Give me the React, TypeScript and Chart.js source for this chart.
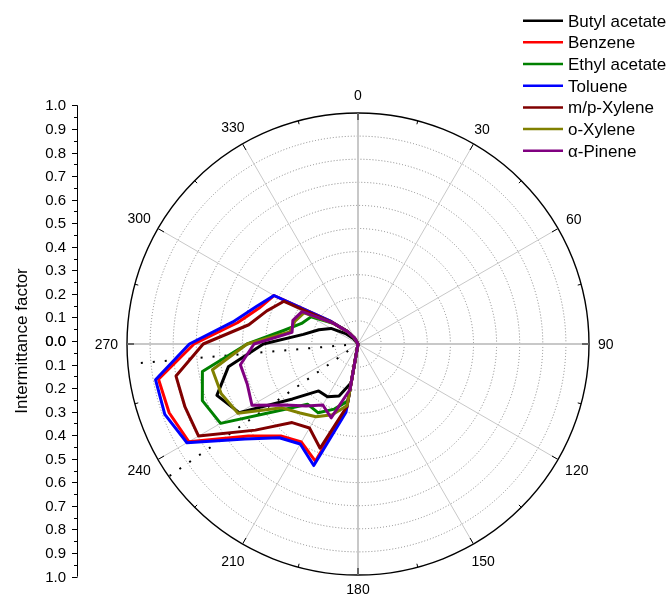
import React, { useEffect, useRef } from "react";
import { Chart, registerables } from "chart.js";

Chart.register(...registerables);

// Wind directions (degrees, clockwise from north), one value per 10°
const directions = [0, 10, 20, 30, 40, 50, 60, 70, 80, 90, 100, 110, 120, 130, 140, 150, 160, 170,
  180, 190, 200, 210, 220, 230, 240, 250, 260, 270, 280, 290, 300, 310, 320, 330, 340, 350];

const butylAcetate = [0, 0, 0, 0, 0, 0, 0, 0, 0, 0, 0, 0, 0, 0, 0, 0, 0, 0,
  0, 0.17, 0.24, 0.264, 0.265, 0.37, 0.594, 0.65, 0.57, 0.41, 0.24, 0.18, 0.135, 0.07, 0.03, 0, 0, 0];
const benzene = [0, 0, 0, 0, 0, 0, 0, 0, 0, 0, 0, 0, 0, 0, 0, 0, 0, 0,
  0, 0.28, 0.54, 0.49, 0.52, 0.62, 0.846, 0.87, 0.877, 0.71, 0.53, 0.455, 0.42, 0.15, 0.07, 0.03, 0, 0];
const ethylAcetate = [0, 0, 0, 0, 0, 0, 0, 0, 0, 0, 0, 0, 0, 0, 0, 0, 0, 0,
  0, 0.25, 0.30, 0.344, 0.34, 0.45, 0.687, 0.717, 0.684, 0.48, 0.33, 0.26, 0.235, 0.14, 0.07, 0.03, 0, 0];
const toluene = [0, 0, 0, 0, 0, 0, 0, 0, 0, 0, 0, 0, 0, 0, 0, 0, 0, 0,
  0, 0.30, 0.56, 0.50, 0.53, 0.64, 0.855, 0.89, 0.89, 0.73, 0.55, 0.47, 0.42, 0.15, 0.07, 0.03, 0, 0];
const mpXylene = [0, 0, 0, 0, 0, 0, 0, 0, 0, 0, 0, 0, 0, 0, 0, 0, 0, 0,
  0, 0.274, 0.48, 0.42, 0.444, 0.58, 0.797, 0.797, 0.80, 0.67, 0.48, 0.42, 0.37, 0.14, 0.07, 0.03, 0, 0];
const oXylene = [0, 0, 0, 0, 0, 0, 0, 0, 0, 0, 0, 0, 0, 0, 0, 0, 0, 0,
  0, 0.27, 0.326, 0.364, 0.39, 0.43, 0.60, 0.63, 0.64, 0.48, 0.30, 0.29, 0.27, 0.14, 0.07, 0.03, 0, 0];
const alphaPinene = [0, 0, 0, 0, 0, 0, 0, 0, 0, 0, 0, 0, 0, 0, 0, 0, 0, 0,
  0, 0.20, 0.34, 0.305, 0.35, 0.41, 0.53, 0.51, 0.517, 0.45, 0.29, 0.30, 0.28, 0.14, 0.07, 0.03, 0, 0];

const seriesNames = ["Butyl acetate", "Benzene", "Ethyl acetate", "Toluene", "m/p-Xylene", "o-Xylene", "\u03b1-Pinene"];
const seriesValues = [butylAcetate, benzene, ethylAcetate, toluene, mpXylene, oXylene, alphaPinene];
const seriesColors = ["#000000", "#ff0000", "#008000", "#0000ff", "#800000", "#808000", "#800080"];

// Dotted sector boundary lines (direction in degrees, length)
const sectorAngles = [265, 235];
const sectorLengths = [0.96, 1.0];

// Angular axis labels and left radial axis ticks
const angleTickLabels = [0, 30, 60, 90, 120, 150, 180, 210, 240, 270, 300, 330];
const radialTicks = [0, 0.1, 0.2, 0.3, 0.4, 0.5, 0.6, 0.7, 0.8, 0.9, 1.0];
const radialTitle = "Intermittance factor";

const FONT = "'Liberation Sans', Arial, sans-serif";

// 5° label grid so the dotted boundaries can sit between the 10° data directions
const fineLabels = directions.flatMap((d) => [String(d), String(d + 5)]);

const decor = {
  id: "decor",
  beforeDatasetsDraw(chart: any) {
    const s = chart.scales.r;
    const ctx = chart.ctx;
    const R = s.drawingArea;
    ctx.save();
    ctx.strokeStyle = "#000";
    ctx.lineWidth = 1;
    for (let i = 0; i < fineLabels.length; i += 3) {
      const major = i % 6 === 0;
      const p1 = s.getPointPosition(i, R);
      const p2 = s.getPointPosition(i, R - (major ? 7 : 3.5));
      ctx.beginPath();
      ctx.moveTo(p1.x, p1.y);
      ctx.lineTo(p2.x, p2.y);
      ctx.stroke();
    }
    ctx.restore();
  },
  afterDraw(chart: any) {
    const s = chart.scales.r;
    const ctx = chart.ctx;
    const R = s.drawingArea;
    ctx.save();
    ctx.fillStyle = "#000";

    // angular labels
    ctx.font = `14px ${FONT}`;
    ctx.textAlign = "center";
    ctx.textBaseline = "alphabetic";
    const capH = 14 * 0.716;
    angleTickLabels.forEach((a) => {
      const txt = String(a);
      const w = ctx.measureText(txt).width;
      const th = (a * Math.PI) / 180;
      const ext = Math.abs(Math.sin(th)) * w / 2 + Math.abs(Math.cos(th)) * capH / 2;
      const idx = fineLabels.indexOf(String(a));
      const extra = a === 0 ? 4 : 0;
      const p = s.getPointPosition(idx, R + 9 + ext + extra);
      ctx.fillText(txt, p.x, p.y + capH / 2);
    });

    // left radial axis (mirrored: 1.0 ... 0.0 ... 1.0)
    const ax = 77;
    const y0 = s.yCenter - 3;
    const unit = s.getDistanceFromCenterForValue(1) * 1.02;
    ctx.strokeStyle = "#000";
    ctx.lineWidth = 1;
    ctx.beginPath();
    ctx.moveTo(ax + 0.5, y0 - unit);
    ctx.lineTo(ax + 0.5, y0 + unit);
    ctx.stroke();
    ctx.font = `15px ${FONT}`;
    ctx.textAlign = "right";
    const capL = 15 * 0.716;
    [-1, 1].forEach((sign) => {
      radialTicks.forEach((v, k) => {
        const y = Math.round(y0 + sign * v * unit) + 0.5;
        ctx.beginPath();
        ctx.moveTo(ax - 5, y);
        ctx.lineTo(ax + 0.5, y);
        ctx.stroke();
        ctx.fillText(v.toFixed(1), ax - 11, y + capL / 2 - 0.5);
        if (k < radialTicks.length - 1) {
          const vm = (v + radialTicks[k + 1]) / 2;
          const ym = Math.round(y0 + sign * vm * unit) + 0.5;
          ctx.beginPath();
          ctx.moveTo(ax - 3, ym);
          ctx.lineTo(ax + 0.5, ym);
          ctx.stroke();
        }
      });
    });
    ctx.save();
    ctx.translate(22, y0);
    ctx.rotate(-Math.PI / 2);
    ctx.font = `17px ${FONT}`;
    ctx.textAlign = "center";
    ctx.textBaseline = "middle";
    ctx.fillText(radialTitle, 0, 0);
    ctx.restore();

    // legend
    ctx.font = `17px ${FONT}`;
    ctx.textAlign = "left";
    ctx.textBaseline = "alphabetic";
    const capG = 17 * 0.716;
    chart.data.datasets.forEach((ds: any, i: number) => {
      if (!ds.isSeries) return;
      const y = 20.7 + i * 21.67;
      ctx.strokeStyle = ds.borderColor;
      ctx.lineWidth = 2.5;
      ctx.beginPath();
      ctx.moveTo(523, y);
      ctx.lineTo(563, y);
      ctx.stroke();
      ctx.fillStyle = "#000";
      ctx.fillText(ds.label, 568, y + capG / 2);
    });
    ctx.restore();
  },
};

export default function App() {
  const ref = useRef<HTMLCanvasElement>(null);

  useEffect(() => {
    if (!ref.current) return;
    Chart.defaults.font.family = FONT;

    const datasets: any[] = seriesValues.map((vals, i) => ({
      label: seriesNames[i],
      isSeries: true,
      data: vals.flatMap((v) => [v, null]),
      borderColor: seriesColors[i],
      backgroundColor: seriesColors[i],
      borderWidth: 3,
      borderJoinStyle: "round",
      pointRadius: 0,
      pointHoverRadius: 0,
      fill: false,
      tension: 0,
      spanGaps: true,
      order: seriesNames.length - i,
    }));

    sectorAngles.forEach((a, j) => {
      const data: (number | null)[] = fineLabels.map(() => null);
      const idx = fineLabels.indexOf(String(a));
      data[idx] = sectorLengths[j];
      data[idx - 1] = 0;
      datasets.push({
        label: "",
        isSeries: false,
        data,
        borderColor: "#000",
        borderWidth: 2,
        borderDash: [2, 10],
        borderCapStyle: "butt",
        pointRadius: 0,
        pointHoverRadius: 0,
        fill: false,
        spanGaps: false,
        order: 50,
      });
    });

    const chart = new Chart(ref.current, {
      type: "radar",
      data: { labels: fineLabels, datasets },
      options: {
        responsive: false,
        devicePixelRatio: 1,
        animation: false,
        events: [],
        layout: { padding: { top: 113, bottom: 23, left: 127, right: 83 } },
        plugins: { legend: { display: false }, tooltip: { enabled: false }, title: { display: false } },
        scales: {
          r: {
            min: 0,
            max: 1,
            startAngle: 0,
            ticks: { display: false, stepSize: 0.1 },
            pointLabels: { display: false },
            grid: {
              circular: true,
              color: (c: any) => (c.tick && c.tick.value > 0.99 ? "#000000" : "#858585"),
              lineWidth: (c: any) => (c.tick && c.tick.value > 0.99 ? 1.4 : 1),
            },
            border: {
              dash: (c: any) => (c.tick && c.tick.value > 0.99 ? [] : [1, 2]),
            },
            angleLines: {
              display: true,
              color: (c: any) => (c.index % 6 === 0 ? "#c8c8c8" : "rgba(0,0,0,0)"),
              lineWidth: (c: any) => (c.index % 18 === 0 ? 2 : c.index % 6 === 0 ? 1 : 0),
            },
          } as any,
        },
      },
      plugins: [decor],
    } as any);

    return () => chart.destroy();
  }, []);

  return (
    <div style={{ position: "fixed", left: 0, top: 0, width: 672, height: 598, background: "#fff" }}>
      <canvas ref={ref} width={672} height={598} style={{ display: "block", width: 672, height: 598 }} />
    </div>
  );
}
